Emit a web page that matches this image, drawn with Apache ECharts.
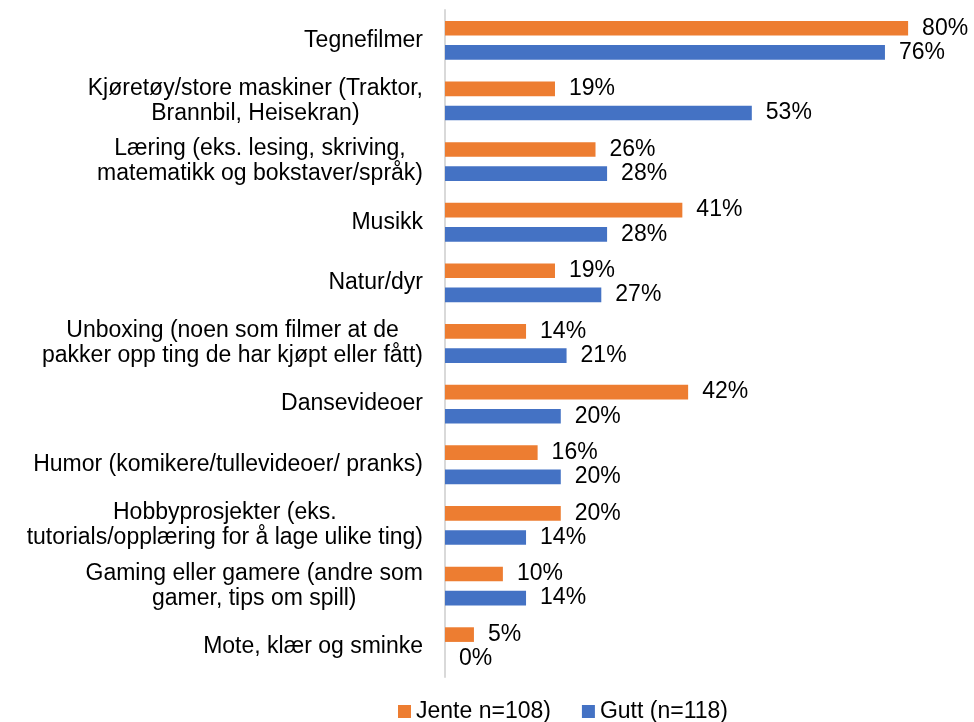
<!DOCTYPE html>
<html>
<head>
<meta charset="utf-8">
<script src="https://cdn.jsdelivr.net/npm/echarts@6/dist/echarts.min.js"></script>
<style>
html,body{margin:0;padding:0;background:#fff;}
#chart{width:974px;height:722px;}
</style>
</head>
<body>
<div id="chart"></div>
<script>
const categories = [
  "Tegnefilmer",
  "Kjøretøy/store maskiner (Traktor,\nBrannbil, Heisekran)",
  "Læring (eks. lesing, skriving,\nmatematikk og bokstaver/språk)",
  "Musikk",
  "Natur/dyr",
  "Unboxing (noen som filmer at de\npakker opp ting de har kjøpt eller fått)",
  "Dansevideoer",
  "Humor (komikere/tullevideoer/ pranks)",
  "Hobbyprosjekter (eks.\ntutorials/opplæring for å lage ulike ting)",
  "Gaming eller gamere (andre som\ngamer, tips om spill)",
  "Mote, klær og sminke"
];
const seriesNames = ["Jente n=108)", "Gutt (n=118)"];
const jente = [80, 19, 26, 41, 19, 14, 42, 16, 20, 10, 5];
const gutt = [76, 53, 28, 28, 27, 21, 20, 20, 14, 14, 0];

const FONT = '"Liberation Sans", Arial, sans-serif';
const FS = 23;
const chart = echarts.init(document.getElementById('chart'), null, {renderer: 'canvas'});

const labelStyle = {
  show: true,
  position: 'right',
  distance: 14,
  formatter: p => p.value + '%',
  fontFamily: FONT,
  fontSize: FS,
  color: '#000'
};

chart.setOption({
  animation: false,
  textStyle: {fontFamily: FONT},
  grid: {left: 445, right: 8, top: 10, bottom: 45, containLabel: false},
  legend: {
    data: seriesNames,
    left: 393,
    top: 694,
    itemWidth: 13,
    itemHeight: 13,
    itemGap: 31,
    icon: 'rect',
    textStyle: {fontFamily: FONT, fontSize: FS, color: '#000', lineHeight: 25, padding: [0, 0, 0, 0]}
  },
  xAxis: {
    type: 'value',
    min: 0,
    max: 90,
    show: false,
    splitLine: {show: false}
  },
  yAxis: {
    type: 'category',
    data: categories,
    inverse: true,
    axisLine: {show: true, lineStyle: {color: '#d9d9d9', width: 2}},
    axisTick: {show: false},
    axisLabel: {
      interval: 0,
      margin: 22,
      align: 'right',
      formatter: v => v.split('\n').map(l => '{c|' + l + '}').join('\n'),
      rich: {
        c: {align: 'center', fontFamily: FONT, fontSize: FS, color: '#000', lineHeight: 25}
      }
    }
  },
  series: [
    {
      name: seriesNames[0],
      type: 'bar',
      data: jente,
      itemStyle: {color: '#ED7D31'},
      barGap: '65%',
      barCategoryGap: '36%',
      label: labelStyle
    },
    {
      name: seriesNames[1],
      type: 'bar',
      data: gutt,
      itemStyle: {color: '#4472C4'},
      barGap: '65%',
      barCategoryGap: '36%',
      label: labelStyle
    }
  ]
});
</script>
</body>
</html>
